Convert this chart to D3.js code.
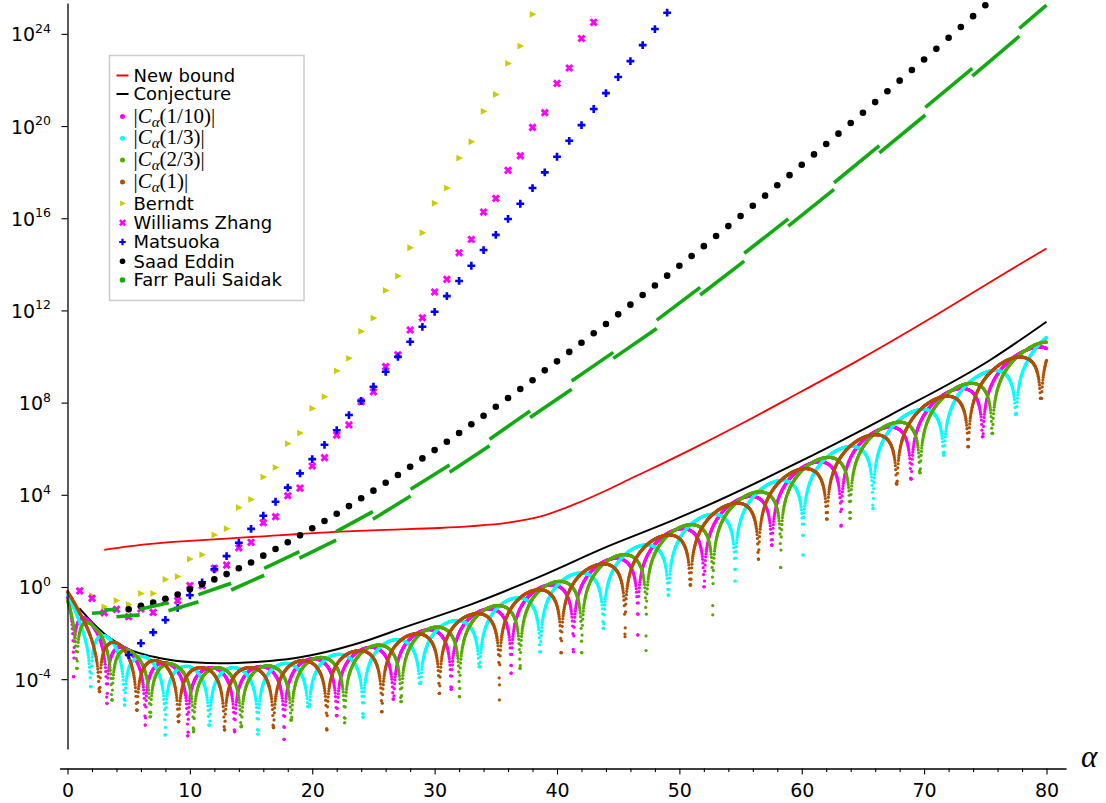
<!DOCTYPE html>
<html>
<head>
<meta charset="utf-8">
<script src="https://cdn.jsdelivr.net/npm/d3@7"></script>
<style>
body { margin: 0; background: #fff; }
svg { display: block; }
</style>
</head>
<body>
<div id="chart"></div>
<script>
// ---- data (values are log10 of the plotted quantity) ----

// curves [alpha, log10]
var newBound = [[3,1.61],[5,1.76],[7.5,1.9],[10,2.0],[13,2.1],[16,2.2],[19,2.3],[22.3,2.4],[26,2.48],
  [30.4,2.56],[33,2.64],[35.9,2.78],[38.6,3.05],[41.3,3.56],[44.1,4.21],[46.2,4.75],[48.4,5.3],
  [50.9,5.95],[55.5,7.2],[59,8.2],[64.5,9.8],[70.5,11.65],[76.7,13.65],[80,14.69]];

var conjecture = [[0.98,-0.93],[2.1,-1.58],[3.5,-2.23],[4.85,-2.66],[7.6,-3.09],[10.3,-3.27],[12.5,-3.31],
  [15.7,-3.24],[18.5,-3.09],[21.2,-2.81],[23.9,-2.42],[27.7,-1.72],[33.2,-0.71],[38.6,0.45],[44.1,1.75],
  [49.5,2.9],[51.7,3.4],[59,5.22],[67.2,7.45],[75.4,9.85],[80,11.51]];

// top of the arches of the |C_alpha| curves
var archTops = [[0,-0.2],[1,-1.0],[2.2,-1.75],[3.3,-2.2],[4.1,-2.45],[5.5,-2.9],[7.3,-3.2],[9,-3.4],
  [10.9,-3.5],[14.8,-3.5],[17,-3.38],[19,-3.2],[21,-3.02],[23.4,-2.8],[28,-2.08],[32.9,-1.21],
  [37.8,-0.2],[43,0.91],[48.4,2.18],[54.1,3.6],[59.85,5.15],[66,6.74],[72,8.47],[78.4,10.31],[80,10.85]];

// zeros of the |C_alpha| curves: [alpha, lowest dot]  (first/last entries lie outside 0..80)
var dipsTenth = [[-1.5,-8],[0.5,-3.89],[3.22,-5.05],[6.35,-5.99],[9.83,-6.46],[13.65,-6.28],[17.7,-6.61],
  [22.0,-5.58],[26.63,-4.86],[31.35,-4.44],[36.25,-3.74],[41.34,-2.81],[46.6,-2.08],[52.02,0.01],
  [57.55,1.82],[63.21,2.65],[68.93,4.69],[74.78,6.52],[81.0,8]];
var dipsThird = [[-4.06,-8],[1.91,-4.32],[4.66,-5.12],[7.98,-6.42],[11.58,-5.99],[15.55,-6.38],[19.69,-5.19],
  [24.15,-5.65],[28.81,-4.18],[33.66,-3.46],[38.62,-2.81],[43.79,-1.79],[49.1,-0.35],[54.55,0.26],
  [60.1,1.39],[65.82,3.41],[71.6,5.73],[77.5,7.49],[83.45,8]];
var dipsTwoThirds = [[-3.28,-8],[0.77,-3.53],[3.63,-4.9],[6.76,-5.63],[10.3,-6.28],[14.19,-6.06],[18.28,-5.77],
  [22.65,-5.89],[27.26,-4.97],[32.03,-4.76],[36.98,-3.53],[42.02,-2.85],[47.28,-2.76],[52.73,-1.21],
  [58.28,0.85],[63.95,2.98],[69.66,4.96],[75.57,6.67],[81.52,8]];
var dipsOne = [[-2.62,-8],[2.62,-4.54],[5.67,-5.34],[9.07,-5.84],[12.83,-6.2],[16.83,-6.1],[21.19,-6.2],
  [25.69,-5.41],[30.39,-4.61],[35.29,-4.9],[40.34,-2.85],[45.56,-2.16],[50.9,0.09],[56.46,1.21],
  [62.05,2.95],[67.76,4.47],[73.6,6.09],[79.55,8.19],[85.55,8]];

// integer-alpha bounds
var berndtStart = 2;
var berndt = [-0.38,-0.86,-0.59,-0.76,-0.28,-0.28,0.33,0.45,1.21,1.4,2.26,2.53,3.44,3.8,4.77,5.18,6.22,6.68,
  7.75,8.26,9.38,9.92,11.09,11.67,12.87,13.49,14.72,15.37,16.65,17.31,18.61,19.32,20.64,21.37,22.72,23.47,24.85];

var williamsStart = 1;
var williams = [-0.17,-0.49,-1.12,-0.97,-1.29,-0.95,-1.1,-0.62,-0.59,0.06,0.06,0.81,0.95,1.7,1.94,2.79,3.05,
  3.96,4.29,5.25,5.61,6.59,7.03,8.04,8.47,9.56,10.07,11.15,11.68,12.8,13.35,14.5,15.08,16.27,16.86,
  18.08,18.71,19.94,20.58,21.85,22.52,23.8,24.5];

var matsuokaStart = 5;
var matsuoka = [-2.95,-2.44,-1.97,-1.43,-0.91,-0.36,0.2,0.77,1.34,1.92,2.52,3.09,3.7,4.31,4.93,5.55,6.17,6.8,
  7.46,8.07,8.69,9.34,9.99,10.64,11.29,11.94,12.62,13.28,13.94,14.62,15.28,15.97,16.63,17.31,17.99,
  18.67,19.36,20.04,20.74,21.43,22.13,22.82,23.51,24.21,24.92];

var saadStart = 5;
var saad = [-0.97,-0.82,-0.68,-0.51,-0.33,-0.1,0.12,0.33,0.56,0.81,1.06,1.36,1.65,1.94,2.24,2.55,2.86,3.18,
  3.51,3.85,4.18,4.52,4.86,5.22,5.58,5.94,6.3,6.68,7.06,7.43,7.82,8.2,8.59,8.97,9.4,9.79,10.2,10.6,
  11.01,11.41,11.83,12.25,12.67,13.08,13.51,13.94,14.36,14.79,15.23,15.66,16.1,16.54,16.98,17.43,
  17.87,18.32,18.77,19.22,19.67,20.13,20.58,21.04,21.51,21.97,22.43,22.89,23.35,23.83,24.3,24.77,25.24];

// Farr Pauli Saidak pieces: [alpha from, alpha to, log10 from, log10 to]
var fpsPieces = [[2.0,3.0,-1.14,-1.11],[3.0,4.0,-1.0,-0.97],[4.0,5.9,-1.29,-1.21],[5.9,8.25,-0.97,-0.68],
  [8.25,10.7,-1.03,-0.64],[10.7,13.37,-0.33,0.16],[13.37,16.07,-0.13,0.51],[16.07,18.95,0.81,1.53],
  [18.95,21.95,1.25,2.03],[21.95,24.95,2.4,3.27],[24.95,28.04,2.94,3.95],[28.04,31.22,4.24,5.29],
  [31.22,34.49,4.98,6.13],[34.49,37.8,6.41,7.64],[37.8,41.2,7.35,8.58],[41.2,44.6,8.94,10.18],
  [44.6,48.15,9.92,11.22],[48.15,51.7,11.58,13.0],[51.7,55.3,12.67,14.14],[55.3,58.9,14.48,15.97],
  [58.9,62.64,15.66,17.25],[62.64,66.34,17.54,19.15],[66.34,70.1,18.84,20.48],[70.1,73.94,20.81,22.5],
  [73.94,77.78,22.17,23.9],[77.78,80,24.24,25.25]];

var xMajorTicks = [0,10,20,30,40,50,60,70,80];
var yTickPowers = [-4,0,4,8,12,16,20,24];

// ---- setup ----
var svg = d3.select("#chart").append("svg")
  .attr("width", 1106)
  .attr("height", 803);

var x = d3.scaleLinear().domain([0, 80]).range([67.5, 1046.5]);
var y = d3.scaleLog().domain([Math.pow(10, -7.03), Math.pow(10, 25.34)]).range([749, 3]);

function px(a) { return x(a); }
function py(l) { return y(Math.pow(10, l)); }

svg.append("defs").append("clipPath").attr("id", "plotclip")
  .append("rect").attr("x", 55).attr("y", 0).attr("width", 1020).attr("height", 752);

var plot = svg.append("g").attr("clip-path", "url(#plotclip)");

// ---- axes ----
var xAxisScale = d3.scaleLinear().domain([-0.65, 81.6]).range([x(-0.65), x(81.6)]);

var xAxisG = svg.append("g")
  .attr("transform", "translate(0,768.5)")
  .call(d3.axisBottom(xAxisScale).tickValues(xMajorTicks).tickSize(6).tickSizeOuter(0).tickPadding(9));
xAxisG.selectAll("text").attr("font-size", 19).attr("font-family", "DejaVu Sans").attr("fill", "#000");

var minorTicks = d3.range(2, 80, 2).filter(function (v) { return v % 10 !== 0; });
var xMinorG = svg.append("g")
  .attr("transform", "translate(0,768.5)")
  .call(d3.axisBottom(xAxisScale).tickValues(minorTicks).tickSize(3.5).tickSizeOuter(0).tickFormat(""));
xMinorG.select(".domain").remove();

var yAxisG = svg.append("g")
  .attr("transform", "translate(67.5,0)")
  .call(d3.axisLeft(y).tickValues(yTickPowers.map(function (p) { return Math.pow(10, p); }))
    .tickSize(6).tickSizeOuter(0).tickFormat(""));

svg.selectAll(".domain").attr("stroke", "#000").attr("stroke-width", 1.3);
svg.selectAll(".tick line").attr("stroke", "#000").attr("stroke-width", 1.1);

var yLabels = svg.append("g").selectAll("text")
  .data(yTickPowers)
  .enter().append("text")
   .attr("x", 51)
   .attr("y", function (p) { return py(p) + 7.5; })
   .attr("text-anchor", "end")
   .attr("font-family", "DejaVu Sans")
   .attr("font-size", 19)
   .attr("fill", "#000");
yLabels.append("tspan").text("10");
yLabels.append("tspan")
  .attr("dy", -8.5)
  .attr("font-size", 12.5)
  .text(function (p) { return String(p); });

svg.append("text")
  .attr("x", 1081)
  .attr("y", 767)
  .attr("font-family", "Liberation Serif, DejaVu Serif, serif")
  .attr("font-style", "italic")
  .attr("font-size", 31)
  .attr("fill", "#000")
  .text("α");

// ---- curves ----
var line = d3.line()
  .x(function (d) { return px(d[0]); })
  .y(function (d) { return py(d[1]); })
  .curve(d3.curveMonotoneX);

plot.append("path").datum(newBound)
  .attr("d", line).attr("fill", "none").attr("stroke", "#ff0000").attr("stroke-width", 1.8);
plot.append("path").datum(conjecture)
  .attr("d", line).attr("fill", "none").attr("stroke", "#000").attr("stroke-width", 2);

// |C_alpha(x)| drawn as a dense scatter, arches between the read zeros
var ARCH_POWER = 1.6;
var archTop = d3.scaleLinear().domain(archTops.map(function (d) { return d[0]; }))
  .range(archTops.map(function (d) { return d[1]; }));

function archPoints(dips) {
  var zeros = dips.map(function (d) { return d[0]; });
  var pts = [];
  d3.range(0, 80.0001, 0.025).forEach(function (a) {
    var i = d3.bisectRight(zeros, a) - 1;
    var d0 = dips[i], d1 = dips[i + 1];
    var t = (a - d0[0]) / (d1[0] - d0[0]);
    var floor = t < 0.5 ? d0[1] : d1[1];
    var v = archTop(a) + ARCH_POWER * Math.log10(Math.sin(Math.PI * t));
    pts.push([a, Math.max(v, floor)]);
  });
  dips.forEach(function (d) {
    if (d[0] >= 0 && d[0] <= 80) pts.push([d[0], d[1]]);
  });
  return pts;
}

var cSeries = [
  {dips: dipsTenth, color: "#ff00ff"},
  {dips: dipsThird, color: "#00ffff"},
  {dips: dipsTwoThirds, color: "#55aa00"},
  {dips: dipsOne, color: "#b05000"}
];

cSeries.forEach(function (s) {
  plot.append("g").attr("fill", s.color)
    .selectAll("circle")
    .data(archPoints(s.dips))
    .enter().append("circle")
     .attr("cx", function (d) { return px(d[0]); })
     .attr("cy", function (d) { return py(d[1]); })
     .attr("r", 1.6);
});

// ---- integer bounds ----
function indexed(start, vals) {
  return vals.map(function (v, i) { return [start + i, v]; });
}

var triPath = "M-2.8,-3.4L3.9,0L-2.8,3.4Z";
var xMark = d3.symbol().type(d3.symbolCross).size(42)();
var plusMark = d3.symbol().type(d3.symbolCross).size(34)();

plot.append("g").selectAll("path")
  .data(indexed(berndtStart, berndt))
  .enter().append("path")
   .attr("d", triPath)
   .attr("fill", "#cccc00")
   .attr("transform", function (d) { return "translate(" + px(d[0]) + "," + py(d[1]) + ")"; });

plot.append("g").selectAll("path")
  .data(indexed(williamsStart, williams))
  .enter().append("path")
   .attr("d", xMark)
   .attr("fill", "#ff00ff")
   .attr("transform", function (d) { return "translate(" + px(d[0]) + "," + py(d[1]) + ") rotate(45)"; });

plot.append("g").selectAll("path")
  .data(indexed(matsuokaStart, matsuoka))
  .enter().append("path")
   .attr("d", plusMark)
   .attr("fill", "#0000ff")
   .attr("transform", function (d) { return "translate(" + px(d[0]) + "," + py(d[1]) + ")"; });

plot.append("g").selectAll("circle")
  .data(indexed(saadStart, saad))
  .enter().append("circle")
   .attr("cx", function (d) { return px(d[0]); })
   .attr("cy", function (d) { return py(d[1]); })
   .attr("r", 3.3)
   .attr("fill", "#000");

plot.append("g").selectAll("line")
  .data(fpsPieces)
  .enter().append("line")
   .attr("x1", function (d) { return px(d[0]); })
   .attr("x2", function (d) { return px(d[1]); })
   .attr("y1", function (d) { return py(d[2]); })
   .attr("y2", function (d) { return py(d[3]); })
   .attr("stroke", "#11aa11")
   .attr("stroke-width", 3.6);

// ---- legend ----
var legend = svg.append("g");
legend.append("rect")
  .attr("x", 109.5).attr("y", 55.5).attr("width", 194.5).attr("height", 245)
  .attr("fill", "#fff").attr("stroke", "#cccccc").attr("stroke-width", 1.5);

var legendRows = [
  {label: "New bound", kind: "line", color: "#ff0000", y: 75.5},
  {label: "Conjecture", kind: "line", color: "#000", y: 94},
  {math: "1/10", kind: "dot", color: "#ff00ff", y: 116.5},
  {math: "1/3", kind: "dot", color: "#00ffff", y: 138.3},
  {math: "2/3", kind: "dot", color: "#55aa00", y: 160},
  {math: "1", kind: "dot", color: "#b05000", y: 182},
  {label: "Berndt", kind: "tri", color: "#cccc00", y: 203.3},
  {label: "Williams Zhang", kind: "x", color: "#ff00ff", y: 222.7},
  {label: "Matsuoka", kind: "plus", color: "#0000ff", y: 242},
  {label: "Saad Eddin", kind: "big", color: "#000", y: 261.3},
  {label: "Farr Pauli Saidak", kind: "big", color: "#11aa11", y: 280}
];

legendRows.forEach(function (r) {
  var mx = 122.5;
  if (r.kind === "line") {
    legend.append("line").attr("x1", 116.5).attr("x2", 128.5).attr("y1", r.y).attr("y2", r.y)
      .attr("stroke", r.color).attr("stroke-width", 2);
  } else if (r.kind === "dot") {
    legend.append("circle").attr("cx", mx).attr("cy", r.y).attr("r", 2.5).attr("fill", r.color);
  } else if (r.kind === "big") {
    legend.append("circle").attr("cx", mx).attr("cy", r.y).attr("r", 2.8).attr("fill", r.color);
  } else if (r.kind === "tri") {
    legend.append("path").attr("d", triPath).attr("fill", r.color)
      .attr("transform", "translate(" + mx + "," + r.y + ") scale(0.85)");
  } else if (r.kind === "x") {
    legend.append("path").attr("d", xMark).attr("fill", r.color)
      .attr("transform", "translate(" + mx + "," + r.y + ") rotate(45) scale(0.85)");
  } else if (r.kind === "plus") {
    legend.append("path").attr("d", plusMark).attr("fill", r.color)
      .attr("transform", "translate(" + mx + "," + r.y + ") scale(0.85)");
  }

  if (r.math) {
    var t = legend.append("text")
      .attr("x", 133.5).attr("y", r.y + 6)
      .attr("font-family", "Liberation Serif, DejaVu Serif, serif")
      .attr("font-size", 21).attr("fill", "#000");
    t.append("tspan").text("|");
    t.append("tspan").attr("font-style", "italic").text("C");
    t.append("tspan").attr("font-style", "italic").attr("font-size", 15).attr("dy", 4).text("α");
    t.append("tspan").attr("dy", -4).text("(" + r.math + ")|");
  } else {
    legend.append("text")
      .attr("x", 133.5).attr("y", r.y + 6.3)
      .attr("font-family", "DejaVu Sans")
      .attr("font-size", 18).attr("fill", "#000")
      .text(r.label);
  }
});
</script>
</body>
</html>
